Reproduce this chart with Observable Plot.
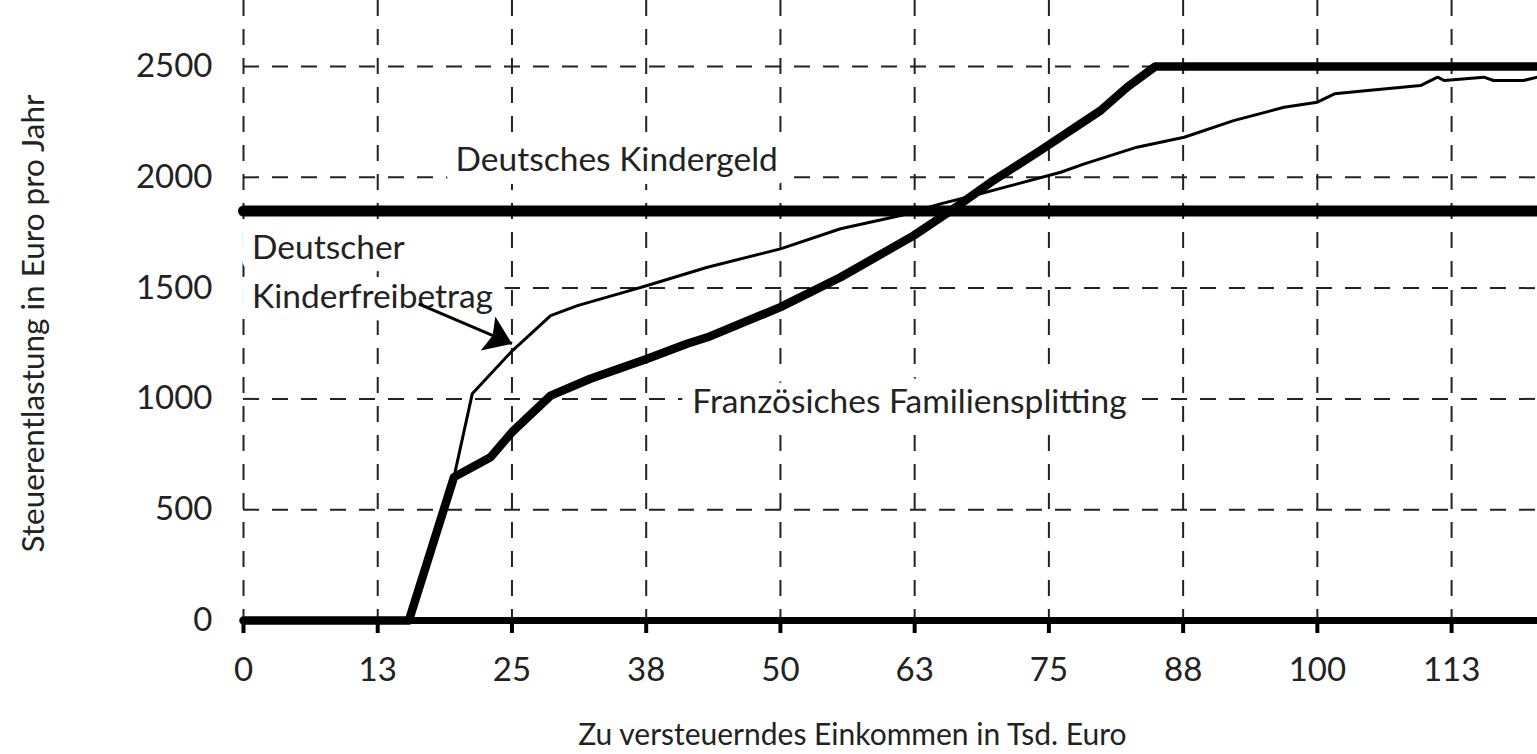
<!DOCTYPE html>
<html>
<head>
<meta charset="utf-8">
<script src="https://cdn.jsdelivr.net/npm/d3@7"></script>
<script src="https://cdn.jsdelivr.net/npm/@observablehq/plot@0.6"></script>
<style>
  html, body { margin: 0; padding: 0; background: #fff; }
  #chart svg { display: block; }
</style>
</head>
<body>
<div id="chart"></div>
<script>
// ---- Data ----
const xTicks = [0, 12.5, 25, 37.5, 50, 62.5, 75, 87.5, 100, 112.5];
const xTickLabels = ["0", "13", "25", "38", "50", "63", "75", "88", "100", "113"];
const yTicks = [0, 500, 1000, 1500, 2000, 2500];

// Deutscher Kinderfreibetrag (thin line)
const incomeFreibetrag = [0, 15.4, 19.6, 21.3, 24.9, 28.6, 31.1, 35.4, 37.6, 43.2, 50.0, 55.6, 61.2, 64.9, 68.0, 71.1, 76.1, 78.3, 83.2, 87.6, 92.2, 96.9, 100.0, 101.6, 104.7, 109.6, 111.2, 111.8, 115.5, 116.4, 119.2, 120.5];
const reliefFreibetrag = [0, 0, 647, 1023, 1211, 1376, 1421, 1481, 1512, 1594, 1677, 1768, 1828, 1880, 1918, 1958, 2023, 2061, 2136, 2181, 2256, 2316, 2339, 2377, 2392, 2414, 2452, 2437, 2452, 2437, 2437, 2452];

// Französisches Familiensplitting (thick line)
const incomeSplitting = [0, 15.4, 19.6, 23.0, 25.0, 28.6, 32.3, 37.6, 41.3, 43.2, 50.0, 55.6, 62.4, 65.9, 69.6, 74.2, 79.8, 82.3, 84.9, 120.5];
const reliefSplitting = [0, 0, 647, 737, 850, 1015, 1091, 1181, 1249, 1278, 1414, 1549, 1737, 1850, 1978, 2121, 2301, 2407, 2500, 2500];

// Deutsches Kindergeld (constant)
const incomeKindergeld = [0, 120.5];
const reliefKindergeld = [1848, 1848];

// Annotation texts and anchors (data coordinates)
const labelTexts = ["Deutsches Kindergeld", "Deutscher", "Kinderfreibetrag", "Französiches Familiensplitting"];
const labelX = [19.75, 0.8, 0.8, 41.8];
const labelY = [2076, 1679, 1459, 984];
const arrowFrom = [16.3, 1429];
const arrowTo = [25.0, 1249];

const xTitle = "Zu versteuerndes Einkommen in Tsd. Euro";
const yTitle = "Steuerentlastung in Euro pro Jahr";

// ---- Build tables ----
const freibetrag = incomeFreibetrag.map((x, i) => ({x, y: reliefFreibetrag[i]}));
const splitting = incomeSplitting.map((x, i) => ({x, y: reliefSplitting[i]}));
const kindergeld = incomeKindergeld.map((x, i) => ({x, y: reliefKindergeld[i]}));
const labels = labelTexts.map((t, i) => ({t, x: labelX[i], y: labelY[i]}));

function filledArrow(color, context) {
  const ns = "http://www.w3.org/2000/svg";
  const doc = (context && context.document) || document;
  const m = doc.createElementNS(ns, "marker");
  m.setAttribute("viewBox", "-27 -20 29 40");
  m.setAttribute("markerWidth", 29);
  m.setAttribute("markerHeight", 40);
  m.setAttribute("markerUnits", "userSpaceOnUse");
  m.setAttribute("orient", "auto");
  m.setAttribute("refX", 0);
  m.setAttribute("refY", 0);
  const p = doc.createElementNS(ns, "path");
  p.setAttribute("d", "M0,0L-26,-18.5L-21,0L-26,18.5Z");
  p.setAttribute("fill", color);
  p.setAttribute("stroke", "none");
  m.appendChild(p);
  return m;
}

const dash = {stroke: "#222", strokeWidth: 2, strokeDasharray: "16,13"};

const chart = Plot.plot({
  width: 1537,
  height: 754,
  marginLeft: 243,
  marginRight: 0,
  marginTop: 0,
  marginBottom: 134,
  x: {domain: [0, 120.5]},
  y: {domain: [0, 2798]},
  style: {fontFamily: "Lato, 'Open Sans', sans-serif", fontSize: "33px", color: "#222", background: "#fff"},
  marks: [
    Plot.ruleX(xTicks, dash),
    Plot.ruleY(yTicks.filter(d => d > 0), {...dash, x1: 0, x2: 120.5}),
    Plot.text(labels, {
      x: "x", y: "y", text: "t", textAnchor: "start", fontSize: 33.5,
      fill: "#222", stroke: "#fff", strokeWidth: 26, strokeLinejoin: "round"
    }),
    Plot.ruleY([0], {stroke: "#000", strokeWidth: 7}),
    Plot.axisX({
      ticks: xTicks,
      tickFormat: d => xTickLabels[xTicks.indexOf(d)],
      tickSize: 13, tickPadding: 24, strokeWidth: 4, stroke: "#000",
      fontSize: 33, label: null
    }),
    Plot.axisY({ticks: yTicks, tickFormat: d => String(d), tickSize: 0, tickPadding: 31, fontSize: 33, label: null}),
    Plot.line(kindergeld, {x: "x", y: "y", stroke: "#000", strokeWidth: 11}),
    Plot.line(splitting, {x: "x", y: "y", stroke: "#000", strokeWidth: 8.5, strokeLinejoin: "round"}),
    Plot.line(freibetrag, {x: "x", y: "y", stroke: "#000", strokeWidth: 3, strokeLinejoin: "round"}),
    Plot.link([0], {
      x1: () => arrowFrom[0], y1: () => arrowFrom[1],
      x2: () => arrowTo[0], y2: () => arrowTo[1],
      stroke: "#000", strokeWidth: 3, markerEnd: filledArrow
    }),
    Plot.text([xTitle], {
      text: d => d, x: () => 56.7, frameAnchor: "bottom", dy: 115,
      lineAnchor: "middle", textAnchor: "middle", fontSize: 30, fill: "#222"
    }),
    Plot.text([yTitle], {
      text: d => d, y: () => 1340, frameAnchor: "left", dx: -210,
      rotate: -90, lineAnchor: "middle", textAnchor: "middle", fontSize: 31.5, fill: "#222"
    })
  ]
});

document.getElementById("chart").appendChild(chart);
</script>
</body>
</html>
